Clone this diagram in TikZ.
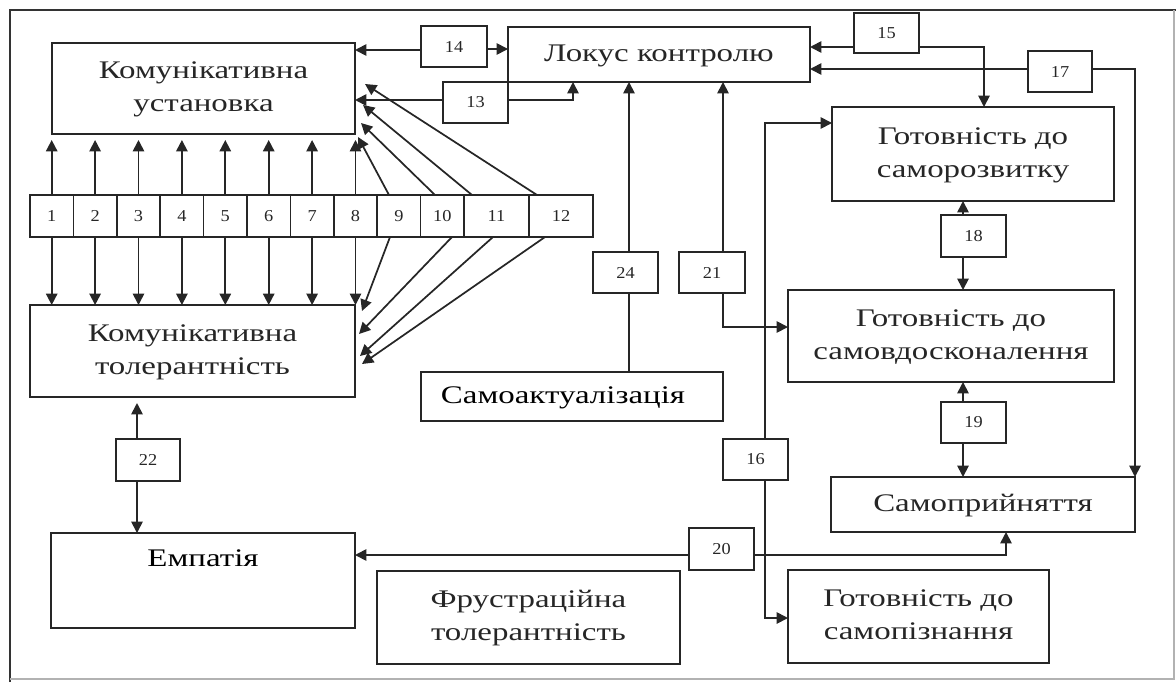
\documentclass[tikz,border=0pt]{standalone}
\usepackage{fontspec}
\setmainfont{Liberation Serif}
\usepackage{graphicx}
\usetikzlibrary{arrows.meta,calc}

% wide captions of the main blocks and of the small numbered boxes
\newcommand\wtext[1]{\scalebox{1.3}[1]{\fontsize{19}{24.75}\selectfont\begin{tabular}{@{}c@{}}#1\end{tabular}}}
\newcommand\nb[1]{\scalebox{1.1}[1]{\fontsize{12.5}{14}\selectfont #1}}

\tikzset{
  box/.style={draw=black!85, line width=1.2pt, rectangle, inner sep=0pt, outer sep=0pt, text=black!85},
  wh/.style 2 args={minimum width=#1*0.75pt, minimum height=#2*0.75pt},
  ln/.style={draw=black!85, line width=1.3pt},
  arr/.style={ln, -{Triangle[length=8.5pt,width=8.5pt]}},
}

\begin{document}
\begin{tikzpicture}[x=0.75pt,y=-0.75pt]
\useasboundingbox (0,0) rectangle (1176,682);

% outer frame
\draw[black!80, line width=1pt] (10,682) -- (10,10) -- (1176,10);
\draw[black!30, line width=0.8pt] (1174,10) -- (1174,679) -- (10,679);

% main blocks
\node[box,wh={303}{91}] (ku) at (203.5,88.5) {\wtext{Комунікативна\\установка}};
\node[box,wh={302}{55}] (lk) at (659,54.5) {\wtext{Локус контролю}};
\node[box,wh={282}{94}] (gs) at (973,154) {\wtext{Готовність до\\саморозвитку}};
\node[box,wh={325}{92}] (kt) at (192.5,351) {\wtext{Комунікативна\\толерантність}};
\node[box,wh={302}{49}] (sa) at (572,396.5) {};
\node at (563,396.5) {\wtext{Самоактуалізація}};
\node[box,wh={326}{92}] (gv) at (951,336) {\wtext{Готовність до\\самовдосконалення}};
\node[box,wh={304}{55}] (sp) at (983,504.5) {\wtext{Самоприйняття}};
\node[box,wh={304}{95}] (emp) at (203,580.5) {};
\node at (203,560) {\wtext{Емпатія}};
\node[box,wh={303}{93}] (fr) at (528.5,617.5) {\wtext{Фрустраційна\\толерантність}};
\node[box,wh={261}{93}] (gp) at (918.5,616.5) {\wtext{Готовність до\\самопізнання}};

% row of numbered cells
\foreach \i in {1,...,10}
  \node[box,wh={43.4}{42}] (c\i) at ({30+43.4*(\i-0.5)},216) {\nb{\i}};
\node[box,wh={65}{42}] (c11) at (496.5,216) {\nb{11}};
\node[box,wh={64}{42}] (c12) at (561,216) {\nb{12}};

% small numbered boxes
\node[box,wh={66}{41}] (n14) at (454,46.5) {\nb{14}};
\node[box,wh={65}{41}] (n13) at (475.5,102.5) {\nb{13}};
\node[box,wh={65}{40}] (n15) at (886.5,33) {\nb{15}};
\node[box,wh={64}{41}] (n17) at (1060,71.5) {\nb{17}};
\node[box,wh={65}{42}] (n18) at (973.5,236) {\nb{18}};
\node[box,wh={65}{41}] (n19) at (973.5,422.5) {\nb{19}};
\node[box,wh={65}{41}] (n24) at (625.5,272.5) {\nb{24}};
\node[box,wh={66}{41}] (n21) at (712,272.5) {\nb{21}};
\node[box,wh={65}{41}] (n16) at (755.5,459.5) {\nb{16}};
\node[box,wh={65}{42}] (n20) at (721.5,549) {\nb{20}};
\node[box,wh={64}{42}] (n22) at (148,460) {\nb{22}};

% vertical links of cells 1-8
\foreach \i in {1,...,8} {
  \draw[arr, shorten >=4.5pt] (c\i.north) -- (c\i.north |- ku.south);
  \draw[arr] (c\i.south) -- (c\i.south |- kt.north);
}

% slanted links of cells 9-12
\draw[arr] (c9.north -| 389,0)  -- ($(ku.south east)+(3,3)$);
\draw[arr] (c10.north -| 435,0) -- ($(ku.south east)+(6,-11)$);
\draw[arr] (c11.north -| 472,0) -- ($(ku.south east)+(8,-29)$);
\draw[arr] (c12.north -| 537,0) -- ($(ku.south east)+(10,-50)$);
\draw[arr] (c9.south -| 390,0)  -- ($(kt.north east)+(7,6)$);
\draw[arr] (c10.south -| 452,0) -- ($(kt.north east)+(4,29)$);
\draw[arr] (c11.south -| 493,0) -- ($(kt.north east)+(5,51)$);
\draw[arr] (c12.south -| 545,0) -- ($(kt.north east)+(7,59)$);

% links through the numbered boxes
\draw[arr] (n14.west |- 0,50) -- (ku.east |- 0,50);
\draw[arr] (n14.east |- 0,49) -- (lk.west |- 0,49);
\draw[arr] (n13.west |- 0,100) -- (ku.east |- 0,100);
\draw[arr] (n13.east |- 0,100) -| (lk.south -| 573,0);
\draw[arr] (n15.west |- 0,47) -- (lk.east |- 0,47);
\draw[arr] (n15.east |- 0,47) -| (gs.north -| 984,0);
\draw[arr] (n17.west |- 0,69) -- (lk.east |- 0,69);
\draw[arr] (n17.east |- 0,69) -| (sp.north east);
\draw[arr] (n24.north -| 629,0) -- (lk.south -| 629,0);
\draw[ln]  (n24.south -| 629,0) -- (sa.north -| 629,0);
\draw[arr] (n21.north -| 723,0) -- (lk.south -| 723,0);
\draw[arr] (n21.south -| 723,0) |- (gv.west |- 0,327);
\draw[arr] (n18.north -| 963,0) -- (gs.south -| 963,0);
\draw[arr] (n18.south -| 963,0) -- (gv.north -| 963,0);
\draw[arr] (n19.north -| 963,0) -- (gv.south -| 963,0);
\draw[arr] (n19.south -| 963,0) -- (sp.north -| 963,0);
\draw[arr] (n16.north -| 765,0) |- (gs.west |- 0,123);
\draw[arr] (n16.south -| 765,0) |- (gp.west |- 0,618);
\draw[arr] (n20.west |- 0,555) -- (emp.east |- 0,555);
\draw[arr] (n20.east |- 0,555) -| (sp.south -| 1006,0);
\draw[arr, shorten >=4.5pt] (n22.north -| 137,0) -- (kt.south -| 137,0);
\draw[arr] (n22.south -| 137,0) -- (emp.north -| 137,0);
\end{tikzpicture}
\end{document}
